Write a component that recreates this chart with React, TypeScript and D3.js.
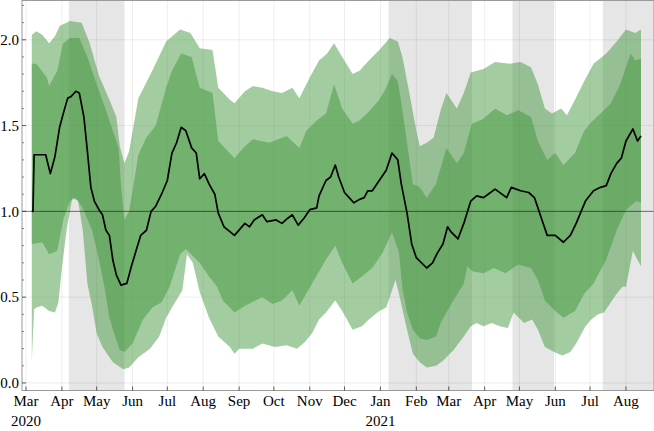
import React from "react";
import * as d3 from "d3";

type Pt = [string, number];

const medianSeries: Pt[] = [
  ["2020-03-06", 1.0], ["2020-03-07", 1.0], ["2020-03-08", 1.33], ["2020-03-18", 1.33],
  ["2020-03-22", 1.22], ["2020-03-26", 1.32], ["2020-03-30", 1.49], ["2020-04-03", 1.59],
  ["2020-04-06", 1.66], ["2020-04-09", 1.67], ["2020-04-13", 1.7], ["2020-04-16", 1.69],
  ["2020-04-20", 1.55], ["2020-04-23", 1.35], ["2020-04-26", 1.14], ["2020-04-29", 1.06],
  ["2020-05-03", 1.01], ["2020-05-06", 0.98], ["2020-05-09", 0.89], ["2020-05-12", 0.86],
  ["2020-05-15", 0.715], ["2020-05-18", 0.63], ["2020-05-22", 0.57], ["2020-05-27", 0.58],
  ["2020-05-31", 0.68], ["2020-06-04", 0.77], ["2020-06-08", 0.86], ["2020-06-13", 0.89],
  ["2020-06-17", 1.0], ["2020-06-21", 1.03], ["2020-06-26", 1.1], ["2020-07-01", 1.18],
  ["2020-07-05", 1.34], ["2020-07-09", 1.4], ["2020-07-13", 1.49], ["2020-07-17", 1.47],
  ["2020-07-22", 1.37], ["2020-07-26", 1.34], ["2020-07-29", 1.19], ["2020-08-02", 1.22],
  ["2020-08-06", 1.16], ["2020-08-11", 1.1], ["2020-08-14", 0.99], ["2020-08-19", 0.91],
  ["2020-08-28", 0.86], ["2020-09-06", 0.93], ["2020-09-10", 0.91], ["2020-09-14", 0.95],
  ["2020-09-21", 0.98], ["2020-09-25", 0.94], ["2020-10-03", 0.95], ["2020-10-08", 0.93],
  ["2020-10-13", 0.96], ["2020-10-17", 0.98], ["2020-10-22", 0.92], ["2020-10-27", 0.96],
  ["2020-11-01", 1.01], ["2020-11-07", 1.02], ["2020-11-09", 1.09], ["2020-11-15", 1.18],
  ["2020-11-19", 1.2], ["2020-11-23", 1.27], ["2020-11-26", 1.2], ["2020-12-01", 1.11],
  ["2020-12-05", 1.08], ["2020-12-09", 1.05], ["2020-12-14", 1.07], ["2020-12-18", 1.08],
  ["2020-12-21", 1.12], ["2020-12-25", 1.12], ["2020-12-31", 1.18], ["2021-01-06", 1.24],
  ["2021-01-11", 1.34], ["2021-01-16", 1.3], ["2021-01-19", 1.16], ["2021-01-24", 0.99],
  ["2021-01-28", 0.81], ["2021-02-01", 0.73], ["2021-02-10", 0.67], ["2021-02-15", 0.7],
  ["2021-02-19", 0.755], ["2021-02-24", 0.81], ["2021-02-28", 0.91], ["2021-03-03", 0.88],
  ["2021-03-09", 0.84], ["2021-03-14", 0.93], ["2021-03-20", 1.06], ["2021-03-25", 1.09],
  ["2021-03-31", 1.08], ["2021-04-04", 1.1], ["2021-04-10", 1.13], ["2021-04-20", 1.08],
  ["2021-04-24", 1.14], ["2021-05-02", 1.12], ["2021-05-09", 1.11], ["2021-05-14", 1.08],
  ["2021-05-20", 0.96], ["2021-05-25", 0.86], ["2021-06-01", 0.86], ["2021-06-08", 0.82],
  ["2021-06-14", 0.86], ["2021-06-19", 0.93], ["2021-06-27", 1.06], ["2021-07-04", 1.12],
  ["2021-07-10", 1.14], ["2021-07-15", 1.15], ["2021-07-19", 1.22], ["2021-07-24", 1.28],
  ["2021-07-28", 1.31], ["2021-08-01", 1.41], ["2021-08-07", 1.48], ["2021-08-11", 1.41],
  ["2021-08-14", 1.44],
];

const outerUpper: Pt[] = [
  ["2020-03-06", 2.03], ["2020-03-10", 2.05], ["2020-03-15", 2.03], ["2020-03-21", 1.98],
  ["2020-03-26", 2.02], ["2020-03-30", 2.08], ["2020-04-08", 2.11], ["2020-04-18", 2.1],
  ["2020-04-25", 1.98], ["2020-05-03", 1.79], ["2020-05-12", 1.65], ["2020-05-18", 1.55],
  ["2020-05-21", 1.38], ["2020-05-25", 1.28], ["2020-05-29", 1.35], ["2020-06-06", 1.66],
  ["2020-06-18", 1.82], ["2020-06-30", 1.99], ["2020-07-12", 2.06], ["2020-07-21", 2.04],
  ["2020-07-29", 1.95], ["2020-08-09", 1.94], ["2020-08-14", 1.72], ["2020-08-24", 1.65],
  ["2020-08-28", 1.63], ["2020-09-06", 1.7], ["2020-09-13", 1.73], ["2020-09-21", 1.72],
  ["2020-09-30", 1.7], ["2020-10-08", 1.69], ["2020-10-17", 1.72], ["2020-10-23", 1.66],
  ["2020-11-01", 1.78], ["2020-11-09", 1.88], ["2020-11-16", 1.92], ["2020-11-22", 1.98],
  ["2020-11-29", 1.9], ["2020-12-08", 1.8], ["2020-12-14", 1.82], ["2020-12-22", 1.88],
  ["2020-12-31", 1.94], ["2021-01-09", 2.01], ["2021-01-16", 1.99], ["2021-01-20", 1.9],
  ["2021-01-26", 1.69], ["2021-02-01", 1.47], ["2021-02-04", 1.38], ["2021-02-10", 1.4],
  ["2021-02-16", 1.43], ["2021-02-22", 1.59], ["2021-02-27", 1.69], ["2021-03-08", 1.6],
  ["2021-03-14", 1.69], ["2021-03-20", 1.81], ["2021-03-31", 1.83], ["2021-04-10", 1.87],
  ["2021-04-23", 1.86], ["2021-05-02", 1.87], ["2021-05-11", 1.84], ["2021-05-17", 1.74],
  ["2021-05-23", 1.6], ["2021-05-29", 1.57], ["2021-06-06", 1.6], ["2021-06-11", 1.56],
  ["2021-06-18", 1.65], ["2021-06-26", 1.76], ["2021-07-04", 1.86], ["2021-07-15", 1.92],
  ["2021-07-24", 1.99], ["2021-08-01", 2.06], ["2021-08-09", 2.04], ["2021-08-14", 2.06],
];

const innerUpper: Pt[] = [
  ["2020-03-06", 1.86], ["2020-03-10", 1.86], ["2020-03-19", 1.78], ["2020-03-21", 1.73],
  ["2020-03-28", 1.82], ["2020-04-02", 1.98], ["2020-04-08", 2.01], ["2020-04-16", 2.01],
  ["2020-04-23", 1.9], ["2020-05-02", 1.72], ["2020-05-09", 1.59], ["2020-05-20", 1.37],
  ["2020-05-22", 1.15], ["2020-05-25", 0.95], ["2020-05-29", 1.0], ["2020-06-03", 1.2],
  ["2020-06-06", 1.33], ["2020-06-13", 1.43], ["2020-06-21", 1.5], ["2020-06-30", 1.72],
  ["2020-07-05", 1.82], ["2020-07-13", 1.92], ["2020-07-22", 1.9], ["2020-07-29", 1.72],
  ["2020-08-09", 1.69], ["2020-08-14", 1.41], ["2020-08-28", 1.31], ["2020-09-06", 1.38],
  ["2020-09-13", 1.42], ["2020-09-27", 1.4], ["2020-10-12", 1.44], ["2020-10-23", 1.37],
  ["2020-10-29", 1.47], ["2020-11-07", 1.53], ["2020-11-15", 1.57], ["2020-11-22", 1.74],
  ["2020-11-29", 1.6], ["2020-12-08", 1.51], ["2020-12-14", 1.53], ["2020-12-22", 1.58],
  ["2020-12-31", 1.65], ["2021-01-06", 1.72], ["2021-01-11", 1.8], ["2021-01-16", 1.76],
  ["2021-01-20", 1.59], ["2021-01-25", 1.35], ["2021-01-29", 1.16], ["2021-02-04", 1.14],
  ["2021-02-10", 1.08], ["2021-02-18", 1.16], ["2021-02-27", 1.37], ["2021-03-08", 1.28],
  ["2021-03-14", 1.34], ["2021-03-21", 1.51], ["2021-03-31", 1.54], ["2021-04-10", 1.6],
  ["2021-04-20", 1.56], ["2021-04-30", 1.59], ["2021-05-11", 1.55], ["2021-05-17", 1.41],
  ["2021-05-25", 1.3], ["2021-06-01", 1.34], ["2021-06-08", 1.27], ["2021-06-18", 1.34],
  ["2021-06-26", 1.47], ["2021-07-02", 1.52], ["2021-07-10", 1.57], ["2021-07-19", 1.63],
  ["2021-07-27", 1.74], ["2021-08-05", 1.92], ["2021-08-09", 1.88], ["2021-08-14", 1.89],
];

const innerLower: Pt[] = [
  ["2020-03-06", 0.81], ["2020-03-15", 0.82], ["2020-03-21", 0.75], ["2020-03-28", 0.77],
  ["2020-04-02", 0.95], ["2020-04-08", 1.06], ["2020-04-13", 1.08], ["2020-04-19", 1.02],
  ["2020-04-27", 0.89], ["2020-05-03", 0.72], ["2020-05-08", 0.55], ["2020-05-12", 0.38],
  ["2020-05-17", 0.27], ["2020-05-21", 0.19], ["2020-05-25", 0.18], ["2020-06-01", 0.23],
  ["2020-06-10", 0.37], ["2020-06-18", 0.44], ["2020-06-26", 0.47], ["2020-07-03", 0.56],
  ["2020-07-12", 0.75], ["2020-07-17", 0.78], ["2020-07-29", 0.7], ["2020-08-06", 0.62],
  ["2020-08-13", 0.56], ["2020-08-18", 0.48], ["2020-08-28", 0.41], ["2020-09-06", 0.45],
  ["2020-09-21", 0.5], ["2020-09-30", 0.46], ["2020-10-08", 0.48], ["2020-10-17", 0.54],
  ["2020-10-23", 0.45], ["2020-10-28", 0.51], ["2020-11-03", 0.58], ["2020-11-09", 0.65],
  ["2020-11-15", 0.72], ["2020-11-23", 0.8], ["2020-11-29", 0.7], ["2020-12-08", 0.58],
  ["2020-12-16", 0.62], ["2020-12-25", 0.67], ["2021-01-03", 0.76], ["2021-01-11", 0.88],
  ["2021-01-17", 0.76], ["2021-01-20", 0.55], ["2021-01-24", 0.41], ["2021-01-29", 0.31],
  ["2021-02-04", 0.26], ["2021-02-10", 0.25], ["2021-02-18", 0.27], ["2021-02-22", 0.35],
  ["2021-02-27", 0.41], ["2021-03-05", 0.48], ["2021-03-14", 0.58], ["2021-03-17", 0.68],
  ["2021-03-22", 0.65], ["2021-03-31", 0.64], ["2021-04-09", 0.67], ["2021-04-19", 0.64],
  ["2021-04-30", 0.69], ["2021-05-11", 0.67], ["2021-05-17", 0.6], ["2021-05-23", 0.48],
  ["2021-06-01", 0.42], ["2021-06-08", 0.38], ["2021-06-18", 0.42], ["2021-06-26", 0.52],
  ["2021-07-04", 0.58], ["2021-07-15", 0.72], ["2021-07-24", 0.89], ["2021-08-01", 1.01],
  ["2021-08-10", 1.06], ["2021-08-14", 1.05],
];

const outerLower: Pt[] = [
  ["2020-03-06", 0.13], ["2020-03-08", 0.43], ["2020-03-10", 0.44], ["2020-03-15", 0.45],
  ["2020-03-21", 0.42], ["2020-03-26", 0.41], ["2020-03-29", 0.47], ["2020-04-01", 0.67],
  ["2020-04-05", 0.89], ["2020-04-10", 1.08], ["2020-04-15", 1.06], ["2020-04-19", 0.89],
  ["2020-04-23", 0.58], ["2020-04-27", 0.45], ["2020-05-01", 0.29], ["2020-05-06", 0.21],
  ["2020-05-15", 0.12], ["2020-05-24", 0.08], ["2020-05-29", 0.09], ["2020-06-06", 0.15],
  ["2020-06-16", 0.2], ["2020-06-24", 0.27], ["2020-06-30", 0.38], ["2020-07-05", 0.44],
  ["2020-07-14", 0.54], ["2020-07-18", 0.75], ["2020-07-23", 0.7], ["2020-07-29", 0.53],
  ["2020-08-06", 0.38], ["2020-08-14", 0.27], ["2020-08-24", 0.21], ["2020-08-28", 0.17],
  ["2020-09-01", 0.2], ["2020-09-13", 0.2], ["2020-09-21", 0.23], ["2020-10-02", 0.21],
  ["2020-10-12", 0.22], ["2020-10-21", 0.2], ["2020-10-28", 0.24], ["2020-11-03", 0.29],
  ["2020-11-09", 0.37], ["2020-11-15", 0.41], ["2020-11-23", 0.48], ["2020-11-29", 0.42],
  ["2020-12-08", 0.31], ["2020-12-16", 0.33], ["2020-12-22", 0.37], ["2020-12-31", 0.42],
  ["2021-01-06", 0.44], ["2021-01-11", 0.54], ["2021-01-14", 0.6], ["2021-01-17", 0.52],
  ["2021-01-24", 0.31], ["2021-01-29", 0.17], ["2021-02-04", 0.12], ["2021-02-10", 0.09],
  ["2021-02-18", 0.1], ["2021-02-24", 0.13], ["2021-03-05", 0.19], ["2021-03-14", 0.27],
  ["2021-03-20", 0.33], ["2021-03-25", 0.35], ["2021-03-31", 0.33], ["2021-04-07", 0.35],
  ["2021-04-14", 0.33], ["2021-04-21", 0.32], ["2021-04-26", 0.41], ["2021-05-05", 0.35],
  ["2021-05-12", 0.37], ["2021-05-17", 0.31], ["2021-05-23", 0.21], ["2021-05-31", 0.18],
  ["2021-06-07", 0.16], ["2021-06-14", 0.18], ["2021-06-19", 0.23], ["2021-06-27", 0.33],
  ["2021-07-02", 0.37], ["2021-07-08", 0.4], ["2021-07-13", 0.41], ["2021-07-19", 0.47],
  ["2021-07-24", 0.52], ["2021-07-29", 0.56], ["2021-08-01", 0.56], ["2021-08-07", 0.77],
  ["2021-08-10", 0.73], ["2021-08-14", 0.68],
];

const shadedPeriods: [string, string][] = [
  ["2020-04-07", "2020-05-25"],
  ["2021-01-08", "2021-03-21"],
  ["2021-04-25", "2021-05-31"],
  ["2021-07-12", "2021-09-30"],
];

const yMajorTicks = [0.0, 0.5, 1.0, 1.5, 2.0];
const yMinorTicks = [0.1, 0.2, 0.3, 0.4, 0.6, 0.7, 0.8, 0.9, 1.1, 1.2, 1.3, 1.4, 1.6, 1.7, 1.8, 1.9, 2.1, 2.2];
const yearLabels: [string, string][] = [["2020-03-01", "2020"], ["2021-01-01", "2021"]];
const referenceLevel = 1.0;

const W = 654;
const H = 431;
const left = 22;
const right = 654;
const top = 0.5;
const bottom = 390.5;

const parse = d3.utcParse("%Y-%m-%d");
const fmtMonth = d3.utcFormat("%b");

const x = d3
  .scaleUtc()
  .domain([new Date(Date.UTC(2020, 1, 26, 13)), new Date(Date.UTC(2021, 7, 25, 5))])
  .range([left, right]);
const y = d3.scaleLinear().domain([-0.044, 2.229]).range([bottom, top]);

const toXY = (p: Pt): [number, number] => [x(parse(p[0]) as Date), y(p[1])];
const lineGen = d3.line<[number, number]>();

function bandPath(upper: Pt[], lower: Pt[]): string {
  const pts = upper.map(toXY).concat(lower.map(toXY).reverse());
  return (lineGen(pts) || "") + "Z";
}

const monthTicks = d3.utcMonth.range(new Date(Date.UTC(2020, 2, 1)), new Date(Date.UTC(2021, 7, 2)));

const GREEN = "rgb(62,148,56)";
const FONT = "'Liberation Serif', 'Times New Roman', serif";

export default function App() {
  const medianPath = d3
    .line<Pt>()
    .x((d) => x(parse(d[0]) as Date))
    .y((d) => y(d[1]))(medianSeries) || "";

  return (
    <svg
      width={W}
      height={H}
      style={{ position: "absolute", left: 0, top: 0, background: "#fff" }}
      fontFamily={FONT}
    >
      <defs>
        <clipPath id="plot">
          <rect x={left} y={top} width={right - left} height={bottom - top} />
        </clipPath>
      </defs>
      <rect x={0} y={0} width={W} height={H} fill="#fff" />
      <g clipPath="url(#plot)">
        {shadedPeriods.map(([a, b], i) => (
          <rect
            key={i}
            x={x(parse(a) as Date)}
            y={top}
            width={x(parse(b) as Date) - x(parse(a) as Date)}
            height={bottom - top}
            fill="gray"
            fillOpacity={0.2}
          />
        ))}
        {monthTicks.map((d, i) => (
          <line key={"gx" + i} x1={x(d)} x2={x(d)} y1={top} y2={bottom} stroke="#000" strokeOpacity={0.09} strokeWidth={0.8} />
        ))}
        {yMajorTicks.map((v, i) => (
          <line key={"gy" + i} x1={left} x2={right} y1={y(v)} y2={y(v)} stroke="#000" strokeOpacity={0.09} strokeWidth={0.8} />
        ))}
        <path d={bandPath(outerUpper, outerLower)} fill={GREEN} fillOpacity={0.48} />
        <path d={bandPath(innerUpper, innerLower)} fill={GREEN} fillOpacity={0.48} />
        <line x1={left} x2={right} y1={y(referenceLevel)} y2={y(referenceLevel)} stroke="#000" strokeOpacity={0.5} strokeWidth={1} />
        <path d={medianPath} fill="none" stroke="#000" strokeWidth={1.7} strokeLinejoin="round" />
      </g>
      <rect x={left} y={top} width={right - left} height={bottom - top} fill="none" stroke="#999" strokeWidth={1} />
      {yMajorTicks.map((v, i) => (
        <g key={"yt" + i}>
          <line x1={left} x2={left + 4} y1={y(v)} y2={y(v)} stroke="#333" strokeWidth={0.8} />
          <text x={19} y={y(v)} dy="0.35em" textAnchor="end" fontSize={15} fill="#000">
            {v.toFixed(1)}
          </text>
        </g>
      ))}
      {yMinorTicks.map((v, i) => (
        <line key={"ym" + i} x1={left} x2={left + 2} y1={y(v)} y2={y(v)} stroke="#333" strokeWidth={0.6} />
      ))}
      {monthTicks.map((d, i) => (
        <g key={"xt" + i}>
          <line x1={x(d)} x2={x(d)} y1={bottom} y2={bottom - 4} stroke="#333" strokeWidth={0.8} />
          <text x={x(d)} y={406} textAnchor="middle" fontSize={15} fill="#000">
            {fmtMonth(d)}
          </text>
        </g>
      ))}
      {yearLabels.map(([d, label], i) => (
        <text key={"yr" + i} x={x(parse(d) as Date)} y={426} textAnchor="middle" fontSize={15} fill="#000">
          {label}
        </text>
      ))}
    </svg>
  );
}
